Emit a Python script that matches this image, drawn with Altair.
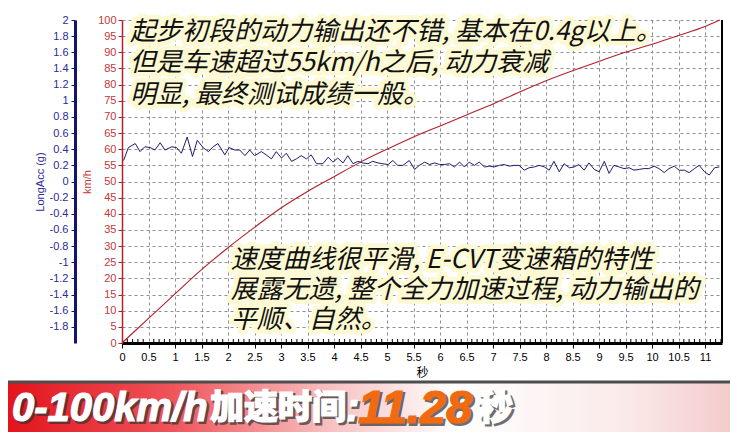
import altair as alt
import pandas as pd

# ---------------- data ----------------
speed_t = [0, 0.5, 1.0, 1.5, 2.0, 2.5, 3.0, 3.5, 4.0, 4.5, 5.0, 5.5, 6.0, 6.5,
           7.0, 7.5, 8.0, 8.5, 9.0, 9.5, 10.0, 10.5, 11.0, 11.28]
speed_v = [0, 7.6, 15.2, 22.7, 29.5, 35.8, 41.8, 46.9, 51.5, 56.0, 60.0, 63.8, 67.2, 70.6,
           74.0, 77.7, 81.2, 84.3, 87.2, 90.0, 92.5, 95.2, 98.0, 100]

acc_t = [0.03, 0.12, 0.25, 0.34, 0.43, 0.53, 0.62, 0.72, 0.81, 0.94, 1.03, 1.12, 1.23, 1.33,
         1.42, 1.53, 1.63, 1.72, 1.81, 1.94, 2.02, 2.13, 2.22, 2.32, 2.41, 2.50, 2.63, 2.72,
         2.82, 2.91, 3.01, 3.10, 3.20, 3.29, 3.38, 3.48, 3.57, 3.67, 3.79, 3.89, 3.98, 4.07,
         4.17, 4.26, 4.36, 4.45, 4.54, 4.64, 4.73, 4.83, 4.92, 5.02, 5.11, 5.20, 5.30, 5.42,
         5.52, 5.61, 5.71, 5.80, 5.90, 5.99, 6.08, 6.18, 6.27, 6.37, 6.46, 6.55, 6.65, 6.74,
         6.84, 6.93, 7.02, 7.12, 7.21, 7.31, 7.40, 7.49, 7.59, 7.68, 7.78, 7.87, 7.97, 8.06,
         8.15, 8.25, 8.34, 8.44, 8.53, 8.62, 8.72, 8.81, 8.91, 9.00, 9.10, 9.19, 9.28, 9.38,
         9.47, 9.57, 9.66, 9.76, 9.85, 9.94, 10.04, 10.13, 10.23, 10.32, 10.42, 10.51, 10.61,
         10.70, 10.80, 10.89, 10.99, 11.08, 11.18, 11.27]
acc_g = [0.26, 0.42, 0.47, 0.37, 0.43, 0.42, 0.39, 0.48, 0.39, 0.43, 0.42, 0.35, 0.55, 0.31,
         0.51, 0.42, 0.37, 0.43, 0.47, 0.33, 0.42, 0.39, 0.39, 0.32, 0.39, 0.32, 0.37, 0.33,
         0.28, 0.37, 0.29, 0.35, 0.25, 0.28, 0.32, 0.28, 0.33, 0.22, 0.22, 0.30, 0.24, 0.29,
         0.23, 0.32, 0.22, 0.25, 0.23, 0.22, 0.25, 0.23, 0.22, 0.21, 0.26, 0.20, 0.20, 0.26,
         0.15, 0.20, 0.24, 0.21, 0.23, 0.21, 0.21, 0.22, 0.18, 0.24, 0.18, 0.24, 0.20, 0.24,
         0.18, 0.19, 0.18, 0.20, 0.21, 0.19, 0.20, 0.20, 0.14, 0.17, 0.18, 0.20, 0.18, 0.14,
         0.25, 0.12, 0.22, 0.17, 0.18, 0.21, 0.14, 0.23, 0.15, 0.12, 0.25, 0.10, 0.20, 0.18,
         0.16, 0.17, 0.14, 0.15, 0.16, 0.16, 0.19, 0.16, 0.11, 0.16, 0.19, 0.14, 0.14,
         0.11, 0.16, 0.20, 0.12, 0.08, 0.17, 0.18]

x_ticks = [0, 0.5, 1, 1.5, 2, 2.5, 3, 3.5, 4, 4.5, 5, 5.5, 6, 6.5, 7, 7.5, 8, 8.5, 9, 9.5,
           10, 10.5, 11]
x_minor = [0.1, 0.2, 0.3, 0.4, 0.6, 0.7, 0.8, 0.9, 1.1, 1.2, 1.3, 1.4, 1.6, 1.7, 1.8, 1.9,
           2.1, 2.2, 2.3, 2.4, 2.6, 2.7, 2.8, 2.9, 3.1, 3.2, 3.3, 3.4, 3.6, 3.7, 3.8, 3.9,
           4.1, 4.2, 4.3, 4.4, 4.6, 4.7, 4.8, 4.9, 5.1, 5.2, 5.3, 5.4, 5.6, 5.7, 5.8, 5.9,
           6.1, 6.2, 6.3, 6.4, 6.6, 6.7, 6.8, 6.9, 7.1, 7.2, 7.3, 7.4, 7.6, 7.7, 7.8, 7.9,
           8.1, 8.2, 8.3, 8.4, 8.6, 8.7, 8.8, 8.9, 9.1, 9.2, 9.3, 9.4, 9.6, 9.7, 9.8, 9.9,
           10.1, 10.2, 10.3, 10.4, 10.6, 10.7, 10.8, 10.9, 11.1, 11.2, 11.3]
kmh_ticks = [0, 5, 10, 15, 20, 25, 30, 35, 40, 45, 50, 55, 60, 65, 70, 75, 80, 85, 90, 95, 100]
acc_ticks = [-1.8, -1.6, -1.4, -1.2, -1, -0.8, -0.6, -0.4, -0.2, 0, 0.2, 0.4, 0.6, 0.8,
             1, 1.2, 1.4, 1.6, 1.8, 2]

note1_lines = ["起步初段的动力输出还不错, 基本在0.4g以上。",
               "但是车速超过55km/h之后, 动力衰减",
               "明显, 最终测试成绩一般。"]
note1_t = [0.15, 0.15, 0.15]
note1_v = [96.3, 86.7, 76.8]
note2_lines = ["速度曲线很平滑, E-CVT变速箱的特性",
               "展露无遗, 整个全力加速过程, 动力输出的",
               "平顺、自然。"]
note2_t = [2.05, 2.05, 2.05]
note2_v = [25.7, 16.4, 7.1]

banner_parts = ["0-100km/h", "加速时间", ":", "11.28", "秒"]

# ---------------- chart ----------------
CJK = "Noto Sans CJK SC"
LAT = "Liberation Sans"
W, H = 600, 323
GRID = "#8f8f8f"
RED = "#b3202a"
BLUE = "#1b1b72"

speed_df = pd.DataFrame({"t": speed_t, "v": speed_v})
acc_df = pd.DataFrame({"t": acc_t, "g": acc_g})
minor_df = pd.DataFrame({"t": x_minor})
notes_df = pd.DataFrame({"t": note1_t + note2_t, "v": note1_v + note2_v,
                         "s": note1_lines + note2_lines})

xscale = alt.Scale(domain=[0, 11.32], nice=False, zero=False)
yscale = alt.Scale(domain=[0, 100], nice=False)

x_axis = alt.Axis(values=x_ticks, title="秒", grid=True, gridDash=[3, 3], gridColor=GRID,
                  domainColor="black", domainWidth=3, tickColor="black", tickSize=5,
                  labelFont=LAT, labelFontSize=11, labelColor="black", labelPadding=3,
                  labelExpr="'' + datum.value", labelOverlap=False, labelFlush=False,
                  titleFont=CJK, titleFontSize=12, titleFontWeight="normal",
                  titleColor="black", titlePadding=5)

kmh_axis = alt.Axis(values=kmh_ticks, title="km/h", orient="left", grid=True,
                    gridDash=[3, 3], gridColor=GRID, domainColor=RED, domainWidth=1.5,
                    tickColor=RED, tickSize=4, labelColor="#c2373a", labelFont=LAT,
                    labelFontSize=11, labelPadding=2, labelOverlap=False,
                    titleColor="#c2373a", titleFont=LAT, titleFontSize=11,
                    titleFontWeight="normal", titlePadding=5)

acc_axis = alt.Axis(values=acc_ticks, title="LongAcc (g)", orient="left", offset=47,
                    grid=False, domainColor="#14146e", domainWidth=3, tickColor="#14146e",
                    tickSize=4, labelColor="#2b2b98", labelFont=LAT, labelFontSize=11,
                    labelPadding=3, labelOverlap=False, labelExpr="'' + datum.value",
                    titleColor="#2b2b98", titleFont=LAT, titleFontSize=11,
                    titleFontWeight="normal", titlePadding=4)

X = alt.X("t:Q", scale=xscale, axis=x_axis)
Y = alt.Y("v:Q", scale=yscale, axis=kmh_axis)

speed_line = alt.Chart(speed_df).mark_line(color=RED, strokeWidth=1.1, interpolate="monotone").encode(
    x=X, y=Y,
)

minor_ticks = alt.Chart(minor_df).mark_rule(color="black", strokeWidth=1).encode(
    x=X, y=alt.value(H - 4), y2=alt.value(H)
)

right_border = alt.Chart(pd.DataFrame({"a": [0]})).mark_rule(color="black", strokeWidth=2).encode(
    x=alt.value(W), y=alt.value(0), y2=alt.value(H)
)

note_common = dict(align="left", baseline="middle", font=CJK, fontSize=26, fontStyle="italic")
note_halo = alt.Chart(notes_df).mark_text(fill="#fdf9d2", stroke="#fdf9d2", strokeWidth=9,
                                          strokeJoin="round", **note_common).encode(
    x=X, y=Y, text="s:N")
note_text = alt.Chart(notes_df).mark_text(fill="#111111", **note_common).encode(
    x=X, y=Y, text="s:N")

# banner
BY0, BY1 = 363, 412
banner = alt.Chart(pd.DataFrame({"a": [0]})).mark_rect(
    color=alt.Gradient(gradient="linear", x1=0, x2=1, y1=0, y2=0,
                       stops=[alt.GradientStop(offset=0, color="#e3141c"),
                              alt.GradientStop(offset=0.22, color="#ee5157"),
                              alt.GradientStop(offset=0.45, color="#f8c2c2"),
                              alt.GradientStop(offset=0.62, color="#ffffff"),
                              alt.GradientStop(offset=0.85, color="#fbeaea"),
                              alt.GradientStop(offset=1, color="#f4cccc")])
).encode(x=alt.value(-114), x2=alt.value(W + 8), y=alt.value(BY0), y2=alt.value(BY1))
banner_line = alt.Chart(pd.DataFrame({"a": [0]})).mark_rule(color="#4d4d4d", strokeWidth=3).encode(
    x=alt.value(-114), x2=alt.value(W + 8), y=alt.value(BY0 - 1)
)


def btext(txt, x, size, font, color, weight="bold", italic=True):
    df = pd.DataFrame({"s": [txt]})
    common = dict(align="left", baseline="middle", font=font, fontSize=size, fontWeight=weight,
                  fontStyle="italic" if italic else "normal")
    ty = (BY0 + BY1) / 2 + 1
    shadow = alt.Chart(df).mark_text(fill="#333333", stroke="#333333", strokeWidth=2,
                                     opacity=0.7, dx=2, dy=2, **common).encode(
        x=alt.value(x), y=alt.value(ty), text="s:N")
    main = alt.Chart(df).mark_text(fill=color, stroke=color, strokeWidth=1.2, **common).encode(
        x=alt.value(x), y=alt.value(ty), text="s:N")
    return [shadow, main]


btexts = (btext(banner_parts[0], -110, 40, LAT, "white")
          + btext(banner_parts[1], 88, 34, CJK, "white", weight=900, italic=False)
          + btext(banner_parts[2], 224, 40, LAT, "white")
          + btext(banner_parts[3], 236, 47, LAT, "#f26a10")
          + btext(banner_parts[4], 356, 35, CJK, "white", weight=900, italic=False))

kmh_group = alt.layer(speed_line, minor_ticks, right_border, note_halo, note_text,
                      banner, banner_line, *btexts)

acc_line = alt.Chart(acc_df).mark_line(color=BLUE, strokeWidth=1).encode(
    x=X,
    y=alt.Y("g:Q", scale=alt.Scale(domain=[-2, 2], nice=False), axis=acc_axis),
)

chart = alt.layer(kmh_group, acc_line).resolve_scale(y="independent").properties(
    width=W, height=H,
    autosize=alt.AutoSizeParams(type="none"),
    padding={"left": 114, "top": 12, "right": 8, "bottom": 89},
    background="white",
).configure_view(stroke=None)

chart.save("out.html", embed_options={"renderer": "svg", "actions": False})
